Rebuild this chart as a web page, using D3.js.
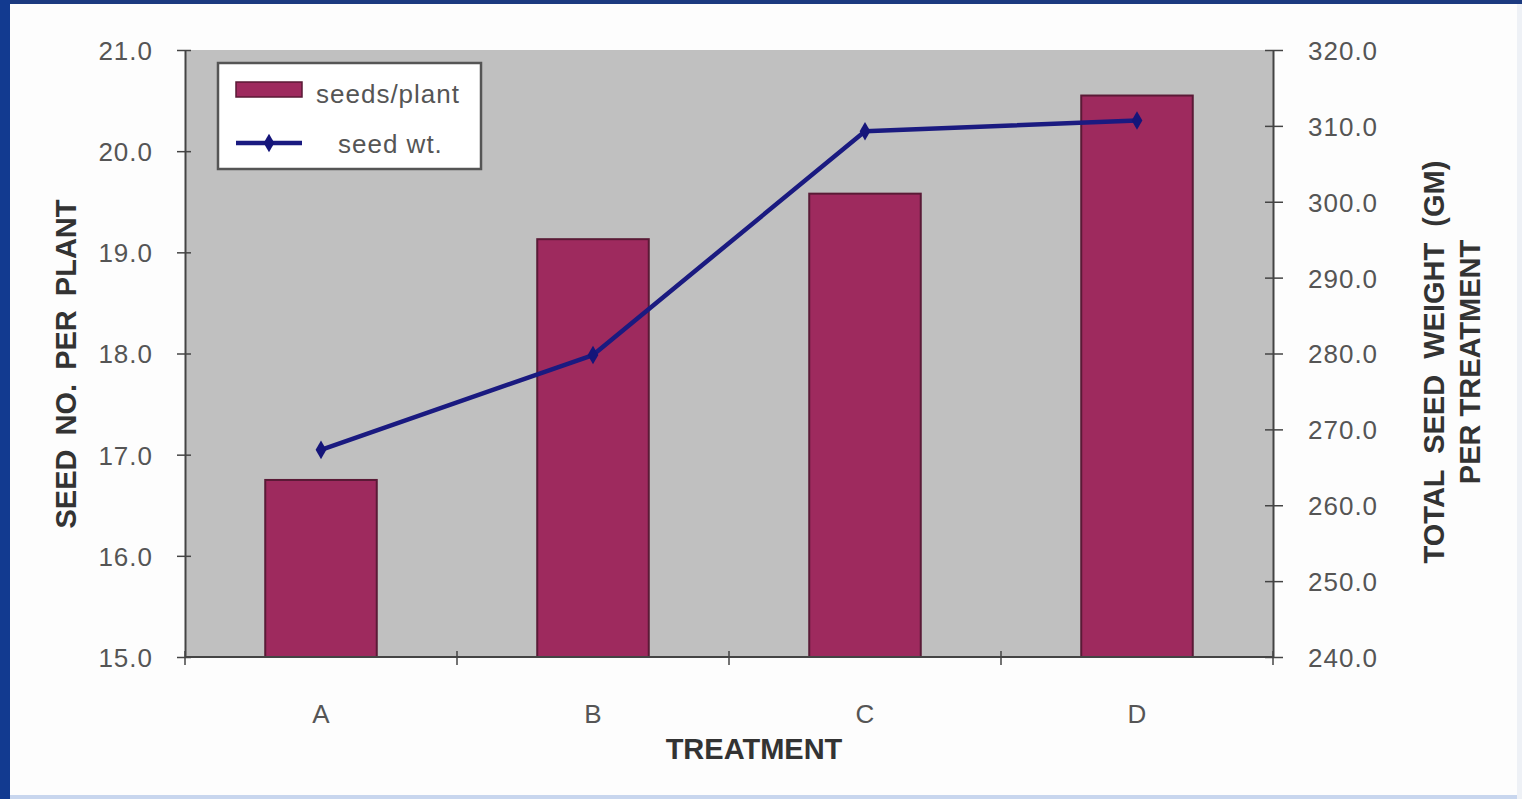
<!DOCTYPE html>
<html>
<head>
<meta charset="utf-8">
<script src="https://cdn.jsdelivr.net/npm/d3@7/dist/d3.min.js"></script>
<style>
  html, body { margin: 0; padding: 0; background: #fff; }
  svg { display: block; }
</style>
</head>
<body>
<svg id="chart" width="1522" height="799"></svg>
<script>
// Treatments and the two measured series
const categories = ["A", "B", "C", "D"];
const seedsPerPlant = [16.75, 19.13, 19.58, 20.55];
const seedWeight = [267.3, 279.8, 309.3, 310.7];
const leftTicks = [15, 16, 17, 18, 19, 20, 21];
const rightTicks = [240, 250, 260, 270, 280, 290, 300, 310, 320];

const svg = d3.select("#chart");
const W = 1522, H = 799;
const plot = { left: 185, right: 1273, top: 50, bottom: 657 };
const font = "Arial, 'Liberation Sans', sans-serif";
const labelSize = 26, titleSize = 29;

// Window frame
svg.append("rect").attr("x", 0).attr("y", 0).attr("width", W).attr("height", H).attr("fill", "#fdfdfd");
svg.append("rect").attr("x", 0).attr("y", 0).attr("width", W).attr("height", 4).attr("fill", "#1c3a80");
svg.append("rect").attr("x", 0).attr("y", 0).attr("width", 10).attr("height", H).attr("fill", "#123a90");
svg.append("rect").attr("x", 10).attr("y", 795).attr("width", W - 10).attr("height", 4).attr("fill", "#c8d6ee");
svg.append("rect").attr("x", 1517).attr("y", 4).attr("width", 5).attr("height", H).attr("fill", "#eef1f6");

const x = d3.scaleBand().domain(categories).range([plot.left, plot.right]).paddingInner(0).paddingOuter(0);
const yL = d3.scaleLinear().domain([15, 21]).range([plot.bottom, plot.top]);
const yR = d3.scaleLinear().domain([240, 320]).range([plot.bottom, plot.top]);

// Plot background
svg.append("rect")
  .attr("x", plot.left).attr("y", plot.top)
  .attr("width", plot.right - plot.left).attr("height", plot.bottom - plot.top)
  .attr("fill", "#c0c0c0");

// Bars: seeds per plant
const barW = x.bandwidth() * 0.41;
svg.append("g").selectAll("rect").data(categories).join("rect")
  .attr("x", d => x(d) + x.bandwidth() / 2 - barW / 2)
  .attr("y", (d, i) => yL(seedsPerPlant[i]))
  .attr("width", barW)
  .attr("height", (d, i) => yL(15) - yL(seedsPerPlant[i]))
  .attr("fill", "#9e2a5e")
  .attr("stroke", "#5a1a36")
  .attr("stroke-width", 2);

// Axes
const axisColor = "#444";
const tickStyle = g => {
  g.selectAll("path").attr("stroke", axisColor).attr("stroke-width", 2);
  g.selectAll("line").attr("stroke", axisColor).attr("stroke-width", 1.5);
  g.selectAll("text").attr("font-family", font).attr("font-size", labelSize)
    .attr("letter-spacing", 1).attr("fill", "#555");
};

svg.append("g")
  .attr("transform", `translate(${plot.left},0)`)
  .call(d3.axisLeft(yL).tickValues(leftTicks).tickFormat(d3.format(".1f")).tickSize(12).tickSizeOuter(0).tickPadding(20))
  .call(tickStyle)
  .call(g => g.selectAll(".tick line").attr("x2", 6).attr("x1", -8))
  .call(g => g.selectAll(".tick text").attr("dy", "0.36em"));

svg.append("g")
  .attr("transform", `translate(${plot.right},0)`)
  .call(d3.axisRight(yR).tickValues(rightTicks).tickFormat(d3.format(".1f")).tickSize(12).tickSizeOuter(0).tickPadding(23))
  .call(tickStyle)
  .call(g => g.selectAll(".tick line").attr("x1", -8).attr("x2", 10))
  .call(g => g.selectAll(".tick text").attr("dy", "0.36em"));

// Category axis with boundary ticks between treatments
const xAxis = svg.append("g").attr("transform", `translate(0,${plot.bottom})`);
xAxis.append("line").attr("x1", plot.left).attr("x2", plot.right)
  .attr("stroke", axisColor).attr("stroke-width", 2);
const bounds = categories.map(d => x(d)).concat([plot.right]);
xAxis.selectAll("line.b").data(bounds).join("line").attr("class", "b")
  .attr("x1", d => d).attr("x2", d => d).attr("y1", -6).attr("y2", 8)
  .attr("stroke", axisColor).attr("stroke-width", 1.5);
xAxis.selectAll("text").data(categories).join("text")
  .attr("x", d => x(d) + x.bandwidth() / 2)
  .attr("y", 66)
  .attr("text-anchor", "middle")
  .attr("font-family", font).attr("font-size", labelSize).attr("fill", "#555")
  .text(d => d);

// Line: seed weight
const line = d3.line()
  .x((d, i) => x(categories[i]) + x.bandwidth() / 2)
  .y(d => yR(d));
svg.append("path").datum(seedWeight)
  .attr("d", line)
  .attr("fill", "none")
  .attr("stroke", "#1a1a80")
  .attr("stroke-width", 4.5)
  .attr("stroke-linejoin", "round");
svg.append("g").selectAll("path").data(seedWeight).join("path")
  .attr("transform", (d, i) => `translate(${x(categories[i]) + x.bandwidth() / 2},${yR(d)})`)
  .attr("d", d3.symbol(d3.symbolDiamond, 100))
  .attr("fill", "#15157a");

// Axis titles
const title = sel => sel.attr("text-anchor", "middle")
  .attr("font-family", font).attr("font-size", titleSize).attr("font-weight", "bold").attr("fill", "#333");

svg.append("text")
  .attr("transform", `translate(76,364) rotate(-90)`)
  .call(title)
  .attr("word-spacing", 6)
  .text("SEED NO. PER PLANT");

svg.append("text")
  .attr("transform", `translate(1444,362) rotate(-90)`)
  .call(title)
  .attr("xml:space", "preserve")
  .text("TOTAL  SEED  WEIGHT  (GM)");
svg.append("text")
  .attr("transform", `translate(1480,362) rotate(-90)`)
  .call(title)
  .text("PER TREATMENT");

svg.append("text")
  .attr("x", 754).attr("y", 759)
  .call(title)
  .text("TREATMENT");

// Legend
const lg = svg.append("g");
lg.append("rect").attr("x", 218).attr("y", 63).attr("width", 263).attr("height", 106)
  .attr("fill", "#fff").attr("stroke", "#555").attr("stroke-width", 2.5);
lg.append("rect").attr("x", 236).attr("y", 82).attr("width", 66).attr("height", 15)
  .attr("fill", "#9e2a5e").attr("stroke", "#5a1a36").attr("stroke-width", 1.5);
lg.append("text").attr("x", 316).attr("y", 103)
  .attr("font-family", font).attr("font-size", labelSize).attr("letter-spacing", 1)
  .attr("fill", "#555").text("seeds/plant");
lg.append("line").attr("x1", 236).attr("x2", 302).attr("y1", 143).attr("y2", 143)
  .attr("stroke", "#1a1a80").attr("stroke-width", 4.5);
lg.append("path").attr("transform", "translate(269,143)")
  .attr("d", d3.symbol(d3.symbolDiamond, 100)).attr("fill", "#15157a");
lg.append("text").attr("x", 338).attr("y", 153)
  .attr("font-family", font).attr("font-size", labelSize).attr("letter-spacing", 1)
  .attr("fill", "#555").text("seed wt.");
</script>
</body>
</html>
